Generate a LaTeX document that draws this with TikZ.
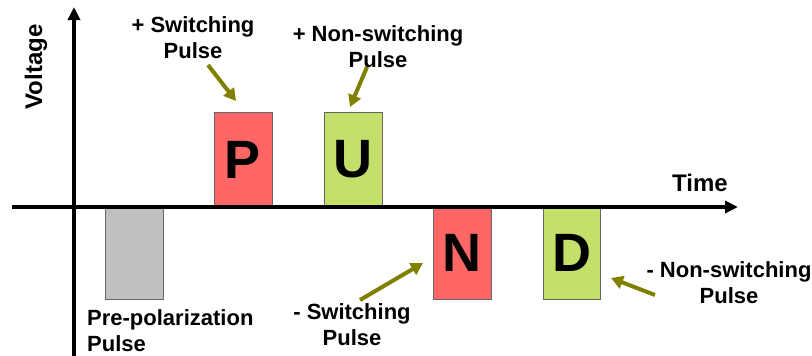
\documentclass[tikz,border=0pt]{standalone}
\usepackage{fontspec}
\setmainfont{Liberation Sans}
\usetikzlibrary{arrows.meta}
\definecolor{pred}{RGB}{255,102,102}
\definecolor{pgreen}{RGB}{196,224,106}
\definecolor{pgray}{RGB}{192,192,192}
\definecolor{olivearrow}{RGB}{128,128,0}
\begin{document}
\begin{tikzpicture}[x=1pt,y=-1pt,
  pulsebox/.style={draw=black!60, line width=0.8pt, inner sep=0pt, minimum width=58pt,
    font=\fontsize{54}{60}\selectfont\bfseries},
  lbl/.style={align=center, inner sep=0pt, font=\fontsize{22}{26}\selectfont\bfseries},
  axlbl/.style={inner sep=0pt, font=\fontsize{24}{28}\selectfont\bfseries},
  axisline/.style={line width=3.5pt, -{Triangle[length=13pt,width=12pt]}},
  pointer/.style={draw=olivearrow, line width=4pt, -{Triangle[length=12pt,width=13pt]}}]
\useasboundingbox (0,0) rectangle (812,356);
% pulses
\node[pulsebox, fill=pgray, minimum height=92pt] (pre) at (134,253) {};
\node[pulsebox, fill=pred, minimum height=95pt] (P) at (243,159.5) {P};
\node[pulsebox, fill=pgreen, minimum height=95pt] (U) at (353,159.5) {U};
\node[pulsebox, fill=pred, minimum height=92pt] (N) at (462,253) {N};
\node[pulsebox, fill=pgreen, minimum height=92pt, minimum width=57pt] (D) at (571.5,253) {D};
% axes
\coordinate (vb) at (74,356);
\coordinate (vt) at (74,7);
\coordinate (hl) at (12,207);
\coordinate (hr) at (738,207);
\draw[axisline] (vb) -- (vt);
\draw[axisline] (hl) -- (hr);
% axis labels
\node[axlbl, rotate=90] (volt) at (36,67) {Voltage};
\node[axlbl] (time) at (700,183) {Time};
% pulse labels
\node[lbl] (lps) at (193,38) {+ Switching\\Pulse};
\node[lbl] (lpn) at (378,47) {+ Non-switching\\Pulse};
\node[lbl, align=left, anchor=west] (lpre) at (87,331) {Pre-polarization\\Pulse};
\node[lbl] (lns) at (352,325) {- Switching\\Pulse};
\node[lbl] (lnn) at (729,283) {- Non-switching\\Pulse};
% pointer arrows
\coordinate (a1s) at (208,65); \coordinate (a1e) at (236,101);
\coordinate (a2s) at (367,67); \coordinate (a2e) at (350,107);
\coordinate (a3s) at (360,300); \coordinate (a3e) at (423,263);
\coordinate (a4s) at (655,295); \coordinate (a4e) at (611,278);
\draw[pointer] (a1s) -- (a1e);
\draw[pointer] (a2s) -- (a2e);
\draw[pointer] (a3s) -- (a3e);
\draw[pointer] (a4s) -- (a4e);
\end{tikzpicture}
\end{document}
